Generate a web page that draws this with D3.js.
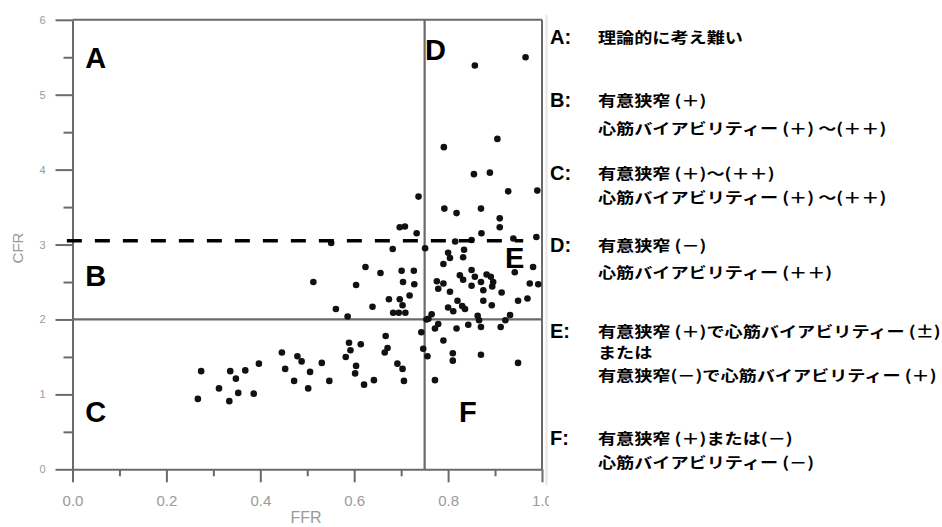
<!DOCTYPE html>
<html>
<head>
<meta charset="utf-8">
<script src="https://cdn.jsdelivr.net/npm/d3@7"></script>
<style>
  body { margin: 0; background: #fff; }
  svg { display: block; }
</style>
</head>
<body>
<svg id="chart"></svg>
<script>
const width = 942;
const height = 527;

// FFR / CFR pairs
const ffr = [
  0.267, 0.274, 0.312, 0.336, 0.348, 0.334, 0.353, 0.368, 0.386, 0.397,
  0.446, 0.453, 0.472, 0.479, 0.488, 0.506, 0.502, 0.531, 0.547,
  0.513, 0.604, 0.561, 0.586, 0.624, 0.656, 0.639, 0.674, 0.697, 0.718,
  0.703, 0.683, 0.695, 0.709, 0.701, 0.727, 0.704, 0.728, 0.551, 0.682,
  0.697, 0.708, 0.737, 0.733, 0.667, 0.589, 0.614, 0.592, 0.582, 0.671,
  0.665, 0.604, 0.602, 0.692, 0.703, 0.706, 0.642, 0.621, 0.743, 0.747,
  0.756, 0.772, 0.754, 0.751,
  0.857, 0.965, 0.905, 0.791, 0.855, 0.889, 0.928, 0.990, 0.792, 0.818,
  0.870, 0.910, 0.910, 0.871, 0.850, 0.815, 0.939, 0.988, 0.800, 0.834,
  0.832, 0.804, 0.790, 0.981, 0.776, 0.790, 0.825, 0.832, 0.850, 0.857,
  0.870, 0.882, 0.891, 0.896, 0.942, 0.974, 0.992, 0.779, 0.804, 0.850,
  0.875, 0.894, 0.914, 0.800, 0.811, 0.820, 0.830, 0.836, 0.875, 0.893,
  0.949, 0.969, 0.765, 0.758, 0.779, 0.772, 0.818, 0.843, 0.863, 0.866,
  0.870, 0.912, 0.922, 0.932, 0.790, 0.810, 0.810, 0.870, 0.949
];
const cfr = [
  0.94, 1.31, 1.08, 1.31, 1.21, 0.91, 1.02, 1.32, 1.01, 1.41,
  1.56, 1.34, 1.18, 1.51, 1.44, 1.30, 1.08, 1.42, 1.18,
  2.50, 2.46, 2.14, 2.04, 2.70, 2.62, 2.17, 2.27, 2.27, 2.32,
  2.19, 2.09, 2.09, 2.09, 2.65, 2.65, 2.50, 2.47, 3.02, 2.94,
  3.23, 3.24, 3.64, 3.15, 1.78, 1.69, 1.67, 1.59, 1.50, 1.62,
  1.56, 1.38, 1.28, 1.41, 1.34, 1.18, 1.19, 1.13, 1.83, 1.61,
  1.51, 1.19, 2.00, 2.95,
  5.39, 5.50, 4.41, 4.30, 3.94, 3.96, 3.71, 3.72, 3.48, 3.42,
  3.48, 3.35, 3.23, 3.15, 3.06, 3.04, 3.08, 3.10, 2.89, 2.93,
  2.83, 2.82, 2.74, 2.70, 2.51, 2.48, 2.59, 2.53, 2.66, 2.57,
  2.50, 2.60, 2.57, 2.50, 2.63, 2.48, 2.47, 2.41, 2.37, 2.45,
  2.39, 2.44, 2.36, 2.16, 2.11, 2.25, 2.18, 2.14, 2.25, 2.19,
  2.25, 2.28, 2.07, 2.01, 1.94, 1.88, 1.88, 1.93, 2.05, 1.99,
  1.90, 1.90, 1.99, 2.06, 1.72, 1.55, 1.45, 1.53, 1.42
];

const xTicks = [0, 0.2, 0.4, 0.6, 0.8, 1.0];
const xMinor = [0.1, 0.3, 0.5, 0.7, 0.9];
const yTicks = [0, 1, 2, 3, 4, 5, 6];
const yMinor = [0.5, 1.5, 2.5, 3.5, 4.5, 5.5];

const ffrCut = 0.75;
const cfrCut = 2;
const cfrDashed = 3.05;

const regionNames = ['A', 'B', 'C', 'D', 'E', 'F'];
const legendLines = [
  ['理論的に考え難い'],
  ['有意狭窄 (＋)', '心筋バイアビリティー (＋) ～(＋＋)'],
  ['有意狭窄 (＋)～(＋＋)', '心筋バイアビリティー (＋) ～(＋＋)'],
  ['有意狭窄 (－)', '心筋バイアビリティー (＋＋)'],
  ['有意狭窄 (＋)で心筋バイアビリティー (±)', 'または', '有意狭窄(－)で心筋バイアビリティー (＋)'],
  ['有意狭窄 (＋)または(－)', '心筋バイアビリティー (－)']
];

const svg = d3.select('#chart')
  .attr('width', width)
  .attr('height', height);

const x = d3.scaleLinear().domain([0, 1]).range([72.5, 542]);
const y = d3.scaleLinear().domain([0, 6]).range([469.3, 19.8]);

const gray = '#6a6a6a';
const labelGray = '#9a9a9a';

// minor ticks first, then major axes
svg.append('g')
  .attr('transform', `translate(${x(0)},0)`)
  .call(d3.axisLeft(y).tickValues(yMinor).tickSize(9).tickSizeOuter(0).tickFormat(''))
  .call(g => g.select('.domain').remove());

svg.append('g')
  .attr('transform', `translate(0,${y(0)})`)
  .call(d3.axisBottom(x).tickValues(xMinor).tickSize(7).tickSizeOuter(0).tickFormat(''))
  .call(g => g.select('.domain').remove());

const yAxis = svg.append('g')
  .attr('transform', `translate(${x(0)},0)`)
  .call(d3.axisLeft(y).tickValues(yTicks).tickSize(17).tickSizeOuter(0).tickPadding(10).tickFormat(d3.format('d')));

const xAxis = svg.append('g')
  .attr('transform', `translate(0,${y(0)})`)
  .call(d3.axisBottom(x).tickValues(xTicks).tickSize(13).tickSizeOuter(0).tickPadding(13).tickFormat(d3.format('.1f')));

yAxis.selectAll('text').style('font-size', '11px');
xAxis.selectAll('text').style('font-size', '15px');

svg.selectAll('.tick line').attr('stroke', gray).attr('stroke-width', 2);
svg.selectAll('.domain').attr('stroke', gray).attr('stroke-width', 2);
svg.selectAll('.tick text')
  .attr('fill', labelGray)
  .style('font-family', '"Liberation Sans", Arial, sans-serif');

// frame top and right
svg.append('line')
  .attr('x1', x(0)).attr('x2', x(1))
  .attr('y1', y(6)).attr('y2', y(6))
  .attr('stroke', gray).attr('stroke-width', 2);
svg.append('line')
  .attr('x1', x(1)).attr('x2', x(1))
  .attr('y1', y(6)).attr('y2', y(0))
  .attr('stroke', gray).attr('stroke-width', 2);

// cut-off lines
svg.append('line')
  .attr('x1', x(ffrCut)).attr('x2', x(ffrCut))
  .attr('y1', y(6)).attr('y2', y(0))
  .attr('stroke', gray).attr('stroke-width', 2.2);
svg.append('line')
  .attr('x1', x(0)).attr('x2', x(1))
  .attr('y1', y(cfrCut)).attr('y2', y(cfrCut))
  .attr('stroke', gray).attr('stroke-width', 2.2);

// points
svg.append('g')
  .selectAll('circle')
  .data(d3.zip(ffr, cfr))
  .enter()
  .append('circle')
  .attr('cx', d => x(d[0]))
  .attr('cy', d => y(d[1]))
  .attr('r', 3.3)
  .attr('fill', '#111');

svg.append('line')
  .attr('x1', x(-0.012)).attr('x2', x(0.96))
  .attr('y1', y(cfrDashed)).attr('y2', y(cfrDashed))
  .attr('stroke', '#000')
  .attr('stroke-width', 3.5)
  .attr('stroke-dasharray', '15 13');

// region letters inside the plot
const regionPos = [[0.027, 5.36], [0.027, 2.45], [0.027, 0.63], [0.751, 5.46], [0.921, 2.69], [0.823, 0.63]];
svg.append('g')
  .selectAll('text')
  .data(regionNames)
  .enter()
  .append('text')
  .attr('x', (d, i) => x(regionPos[i][0]))
  .attr('y', (d, i) => y(regionPos[i][1]))
  .text(d => d)
  .style('font-family', '"Liberation Sans", Arial, sans-serif')
  .style('font-weight', 'bold')
  .style('font-size', '29px')
  .attr('fill', '#000');

// axis titles
svg.append('text')
  .attr('transform', 'translate(23,248) rotate(-90)')
  .attr('text-anchor', 'middle')
  .text('CFR')
  .style('font-family', '"Liberation Sans", Arial, sans-serif')
  .style('font-size', '15px')
  .attr('fill', labelGray);

svg.append('text')
  .attr('x', 306).attr('y', 523)
  .attr('text-anchor', 'middle')
  .text('FFR')
  .style('font-family', '"Liberation Sans", Arial, sans-serif')
  .style('font-size', '16px')
  .attr('fill', labelGray);

// legend panel
svg.append('rect')
  .attr('x', 549).attr('y', 0)
  .attr('width', width - 549).attr('height', height)
  .attr('fill', '#fff');
svg.append('line')
  .attr('x1', 546.5).attr('x2', 546.5)
  .attr('y1', 15).attr('y2', 485)
  .attr('stroke', '#e6e6e6').attr('stroke-width', 2);

const baselines = [[43], [106, 134], [179, 203], [251, 278], [337, 358, 381], [444, 468]];

const legend = svg.append('g');
regionNames.forEach((k, i) => {
  legend.append('text')
    .attr('x', 550)
    .attr('y', baselines[i][0] + 1)
    .text(k + ':')
    .style('font-family', '"Liberation Sans", Arial, sans-serif')
    .style('font-weight', 'bold')
    .style('font-size', '20px')
    .attr('fill', '#000');

  legendLines[i].forEach((line, j) => {
    legend.append('text')
      .attr('transform', `translate(598,${baselines[i][j]}) scale(1.21,1)`)
      .text(line)
      .style('font-family', '"Noto Sans CJK JP", sans-serif')
      .style('font-weight', 'bold')
      .style('font-size', '15px')
      .attr('fill', '#000');
  });
});
</script>
</body>
</html>
